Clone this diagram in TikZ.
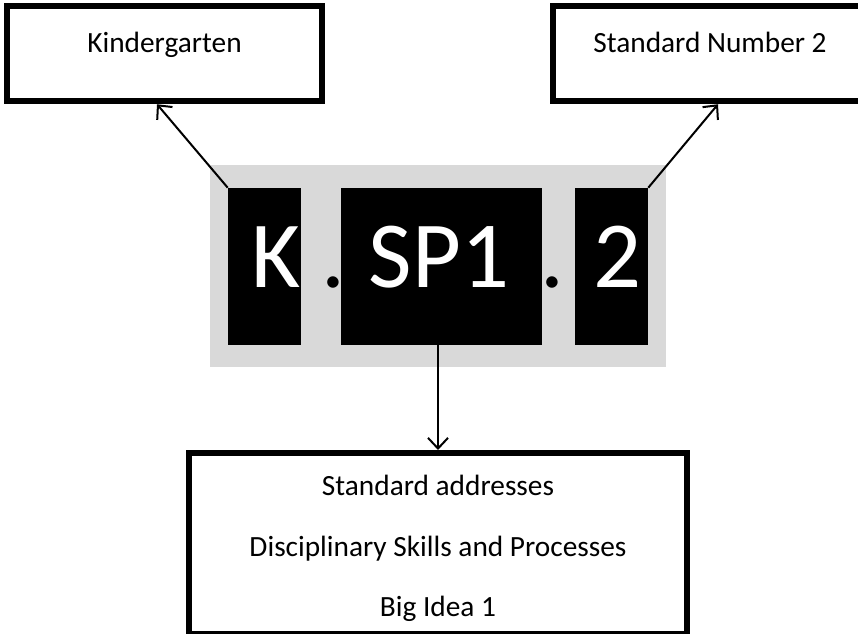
\documentclass[tikz,border=0pt]{standalone}
\usepackage{fontspec}
\setmainfont{Carlito}
\usetikzlibrary{positioning}
\usetikzlibrary{arrows.meta}
\definecolor{code-grey}{HTML}{D9D9D9}
\newcommand{\bigcode}{\fontsize{71}{80}\selectfont}
\newcommand{\smallcode}{\fontsize{22}{26}\selectfont}

\begin{document}
\begin{tikzpicture}[x=0.75pt,y=-0.75pt,
  labelbox/.style={draw=black,line width=4.5pt,fill=white,inner sep=0pt},
  codebox/.style={fill=black,inner sep=0pt,minimum height=117.75pt},
  codetext/.style={anchor=base,text=white,font=\bigcode,inner sep=0pt},
  bodytext/.style={anchor=base,font=\smallcode,inner sep=0pt},
  pointer/.style={line width=1.5pt,-{Straight Barb[length=8pt,width=15pt,line width=1.5pt]}}]
\useasboundingbox (0,0) rectangle (858,634);
% grey background of the code
\node[fill=code-grey,inner sep=0pt,minimum width=342pt,minimum height=151.5pt] (codebg) at (438,266) {};
% black parts of the code
\node[codebox,minimum width=54.75pt] (kbox) at (264.5,266.5) {};
\node[codebox,minimum width=150.75pt] (spbox) at (441.5,266.5) {};
\node[codebox,minimum width=54.75pt] (nbox) at (611.5,266.5) {};
\node[codetext] (ktext) at (276,288) {K};
\node[codetext] (sptext) at (439,288) {SP1};
\node[codetext] (ntext) at (617,288) {2};
\node[codetext,text=black] (dotone) at (333,288) {.};
\node[codetext,text=black] (dottwo) at (552,288) {.};
% label boxes
\node[labelbox,minimum width=236pt,minimum height=71.25pt] (kinder) at (164.5,53.75) {};
\node[bodytext] (kindertext) at (164.5,53) {Kindergarten};
\node[labelbox,minimum width=236pt,minimum height=71.25pt] (stdnum) at (710,53.75) {};
\node[bodytext] (stdnumtext) at (710,53) {Standard Number 2};
\node[labelbox,minimum width=373.5pt,minimum height=135.75pt] (idea) at (438,543.5) {};
\node[bodytext] (ideaone) at (438,496) {Standard addresses};
\node[bodytext] (ideatwo) at (438,556.5) {Disciplinary Skills and Processes};
\node[bodytext] (ideathree) at (438,617) {Big Idea 1};
% arrows
\coordinate (kinderhit) at (157,0);
\coordinate (stdnumhit) at (718,0);
\draw[pointer] (kbox.north west) -- (kinder.south -| kinderhit);
\draw[pointer] (nbox.north east) -- (stdnum.south -| stdnumhit);
\draw[pointer] (spbox.south -| idea.north) -- (idea.north);
\end{tikzpicture}
\end{document}
